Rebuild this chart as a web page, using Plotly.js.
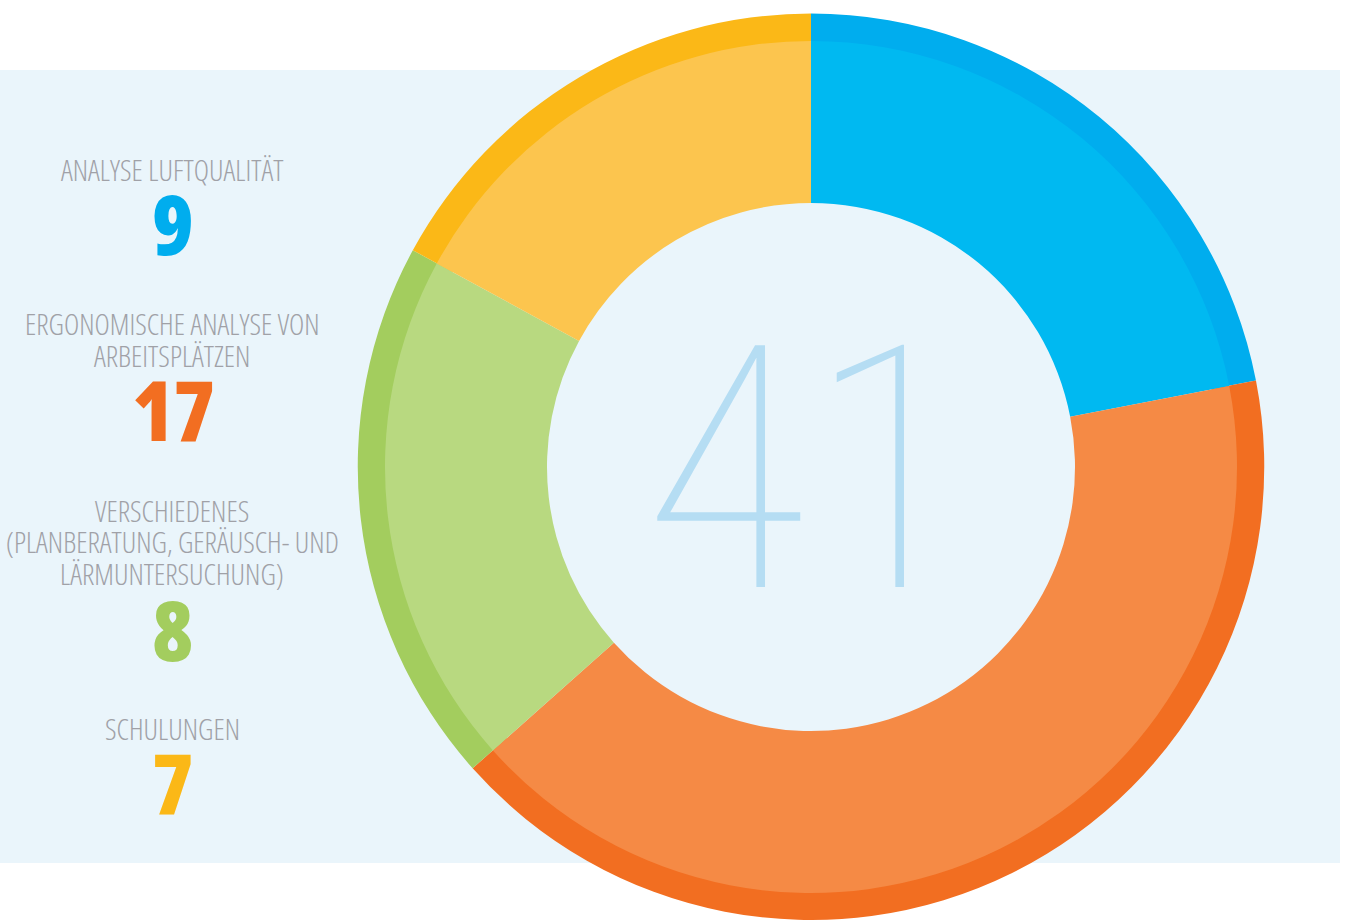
<!DOCTYPE html>
<html>
<head>
<meta charset="utf-8">
<script src="https://cdn.plot.ly/plotly-3.0.1.min.js"></script>
<style>
html,body{margin:0;padding:0;background:#fff;}
#chart{width:1348px;height:920px;}
.annotation-text{font-stretch:75%;}
</style>
</head>
<body>
<div id="chart"></div>
<script>
// Data
const categories = ["ANALYSE LUFTQUALITÄT", "ERGONOMISCHE ANALYSE VON<br>ARBEITSPLÄTZEN", "VERSCHIEDENES<br>(PLANBERATUNG, GERÄUSCH- UND<br>LÄRMUNTERSUCHUNG)", "SCHULUNGEN"];
const values = [9, 17, 8, 7];
const outerColors = ["#00ADEE", "#F26E21", "#A3CD5E", "#FBB817"];
const innerColors = ["#00B9F1", "#F58A45", "#B8D980", "#FCC54E"];
const totalLabel = String(values.reduce((a, b) => a + b, 0));

const W = 1348, H = 920;
const cx = 811, cy = 467;
const rOuter = 453.5, rInner = 426, rHole = 264;
function dom(r) {
  return {
    x: [(cx - r) / W, (cx + r) / W],
    y: [(H - (cy + r)) / H, (H - (cy - r)) / H]
  };
}

const traces = [
  {
    type: "pie", values: values, labels: categories, sort: false, direction: "clockwise", rotation: 0,
    hole: 0.9, domain: dom(rOuter), textinfo: "none", hoverinfo: "label+value",
    marker: {colors: outerColors, line: {width: 0}}, showlegend: false
  },
  {
    type: "pie", values: values, labels: categories, sort: false, direction: "clockwise", rotation: 0,
    hole: rHole / rInner, domain: dom(rInner), textinfo: "none", hoverinfo: "label+value",
    marker: {colors: innerColors, line: {width: 0}}, showlegend: false
  }
];

// Left-side legend annotations (layout positions in pixels)
const labelFirstY = [170, 324, 510, 728];
const lineStep = 31.5;
const numY = [222, 408, 628, 781];
const annotations = [];
categories.forEach((c, i) => {
  c.split("<br>").forEach((line, j) => {
    annotations.push({
      xref: "paper", yref: "paper", x: 172 / W, y: 1 - (labelFirstY[i] + j * lineStep) / H,
      xanchor: "center", yanchor: "middle",
      text: line, showarrow: false, align: "center",
      font: {family: "Open Sans, sans-serif", size: 29, weight: 300, color: "#A0A1A7"}
    });
  });
  annotations.push({
    xref: "paper", yref: "paper", x: 173 / W, y: 1 - numY[i] / H, xanchor: "center", yanchor: "middle",
    text: String(values[i]), showarrow: false,
    font: {family: "Open Sans, sans-serif", size: 84, weight: 800, color: outerColors[i]}
  });
});
annotations.push({
  xref: "paper", yref: "paper", x: 807 / W, y: 1 - 471 / H, xanchor: "center", yanchor: "middle",
  text: totalLabel, showarrow: false,
  font: {family: "Roboto, sans-serif", size: 340, weight: 100, color: "#B5DDF3"}
});

const layout = {
  width: W, height: H,
  margin: {l: 0, r: 0, t: 0, b: 0},
  paper_bgcolor: "#ffffff",
  plot_bgcolor: "#ffffff",
  shapes: [{
    type: "rect", xref: "paper", yref: "paper", layer: "below",
    x0: 0, x1: 1340 / W, y0: 1 - 863 / H, y1: 1 - 70 / H,
    fillcolor: "#EAF5FB", line: {width: 0}
  }],
  annotations: annotations
};

Plotly.newPlot("chart", traces, layout, {displayModeBar: false, staticPlot: true});
</script>
</body>
</html>
